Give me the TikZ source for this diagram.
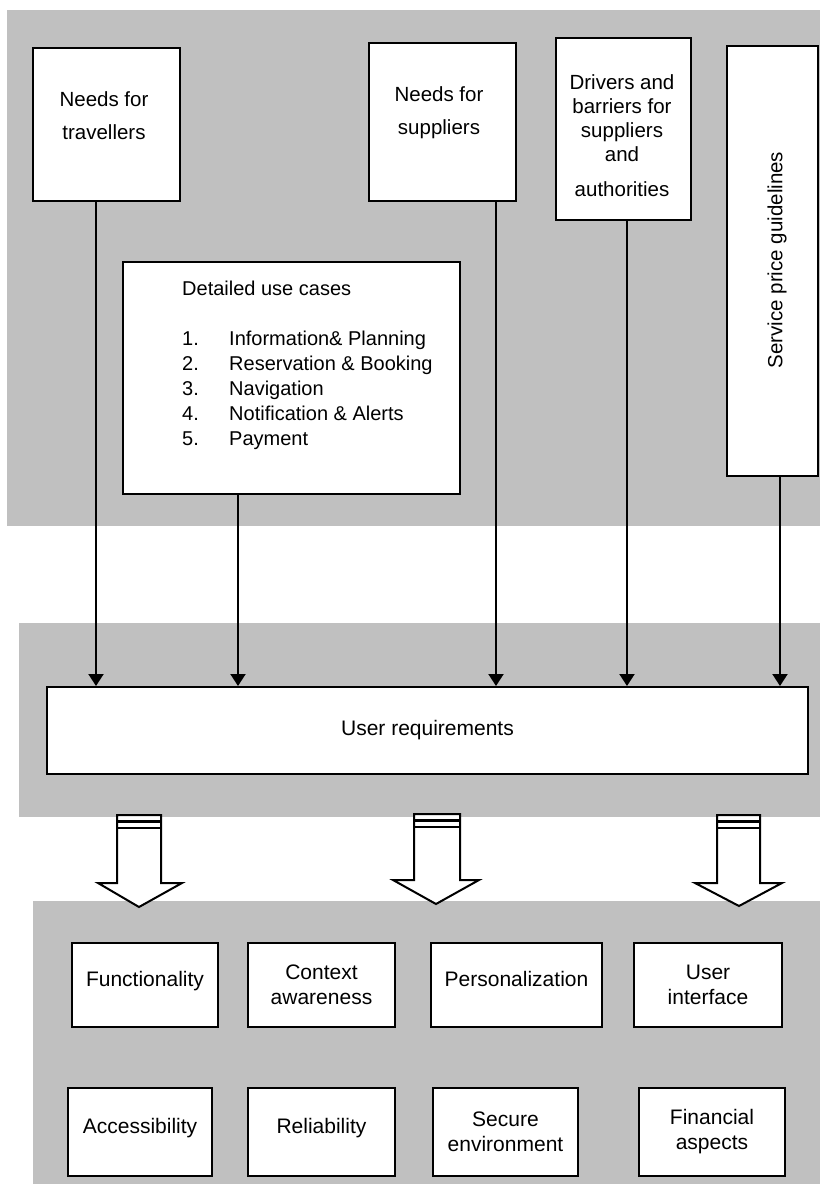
\documentclass[tikz,border=0pt]{standalone}
\usepackage{fontspec}
\setmainfont{Liberation Sans}
\usepackage{array}
\usetikzlibrary{arrows.meta}
\definecolor{panelgray}{RGB}{192,192,192}

\begin{document}
\begin{tikzpicture}[x=1pt, y=-1pt,
    box/.style={draw, fill=white, line width=2pt, inner sep=0pt, align=center,
                font=\fontsize{21}{25}\selectfont},
    boxtext/.style={inner sep=0pt, align=center, font=\fontsize{20.5}{25}\selectfont},
    feed/.style={line width=2pt, -{Triangle[width=15pt,length=12pt]}},
    block/.style={draw, fill=white, line width=2pt, line join=miter},
    stripe/.style={line width=2.6pt}]
\useasboundingbox (0,0) rectangle (820,1189);

% grey panels
\fill[panelgray] (7,10) rectangle (820,526);
\fill[panelgray] (19,623) rectangle (820,817);
\fill[panelgray] (33,901) rectangle (820,1184);

% inputs
\node[box, minimum width=147, minimum height=153] (trav) at (106.5,124.5) {};
\node[boxtext, anchor=north] (travtxt) at (104,91) {Needs for\\[8pt]travellers};
\node[box, minimum width=147, minimum height=158] (supp) at (442.5,122) {};
\node[boxtext, anchor=north] (supptxt) at (439,86) {Needs for\\[8pt]suppliers};
\node[box, minimum width=135, minimum height=182] (driv) at (623.5,129) {};
\node[boxtext, anchor=north, font=\fontsize{20.5}{24}\selectfont] (drivtxt) at (622,74)
    {Drivers and\\barriers for\\suppliers\\and\\[11pt]authorities};
\node[box, minimum width=91, minimum height=430] (price) at (772.5,261) {};
\node[boxtext, rotate=90] (pricetxt) at (777,260) {Service price guidelines};
\node[box, minimum width=337, minimum height=232] (cases) at (291.5,378) {};
\node[boxtext, anchor=north west, align=left, font=\fontsize{20}{25}\selectfont] (casetxt) at (182,277.5) {%
    \begin{tabular}{@{}p{47pt}@{}l@{}}
    \multicolumn{2}{@{}l@{}}{Detailed use cases}\\
    \\
    1. & Information\& Planning\\
    2. & Reservation \& Booking\\
    3. & Navigation\\
    4. & Notification \& Alerts\\
    5. & Payment
    \end{tabular}};

% requirements
\node[box, minimum width=761, minimum height=87] (ureq) at (427.5,730.5) {User requirements};

% quality aspects
\node[box, minimum width=146, minimum height=84, text depth=12pt] (func) at (145,985) {Functionality};
\node[box, minimum width=147, minimum height=84] (ctx) at (321.5,985) {Context\\awareness};
\node[box, minimum width=171, minimum height=84, text depth=12pt] (pers) at (516.5,985) {Personalization};
\node[box, minimum width=148, minimum height=84] (uif) at (708,985) {User\\interface};
\node[box, minimum width=144, minimum height=88, text depth=12pt] (acc) at (140,1132) {Accessibility};
\node[box, minimum width=147, minimum height=88, text depth=12pt] (rel) at (321.5,1132) {Reliability};
\node[box, minimum width=145, minimum height=88] (sec) at (505.5,1132) {Secure\\environment};
\node[box, minimum width=146, minimum height=88] (fin) at (712,1132) {Financial\\aspects};

% feeds into the requirements
\coordinate (travx) at (96,0);
\coordinate (casex) at (238,0);
\coordinate (suppx) at (496,0);
\coordinate (drivx) at (627,0);
\coordinate (pricex) at (780,0);
\draw[feed] (trav.south -| travx) -- (ureq.north -| travx);
\draw[feed] (cases.south -| casex) -- (ureq.north -| casex);
\draw[feed] (supp.south -| suppx) -- (ureq.north -| suppx);
\draw[feed] (driv.south -| drivx) -- (ureq.north -| drivx);
\draw[feed] (price.south -| pricex) -- (ureq.north -| pricex);

% striped block arrows
\draw[block] (117,815) -- (161,815) -- (161,883) -- (182,883) -- (139,907) -- (98,883) -- (117,883) -- cycle;
\draw[stripe] (117,821.5) -- (161,821.5);
\draw[stripe] (117,828) -- (161,828);
\draw[block] (414,814) -- (460,814) -- (460,880) -- (479,880) -- (436,904) -- (393,880) -- (414,880) -- cycle;
\draw[stripe] (414,820.5) -- (460,820.5);
\draw[stripe] (414,827) -- (460,827);
\draw[block] (717,815) -- (760,815) -- (760,883) -- (782,883) -- (739,906) -- (695,883) -- (717,883) -- cycle;
\draw[stripe] (717,821.5) -- (760,821.5);
\draw[stripe] (717,828) -- (760,828);
\end{tikzpicture}
\end{document}
